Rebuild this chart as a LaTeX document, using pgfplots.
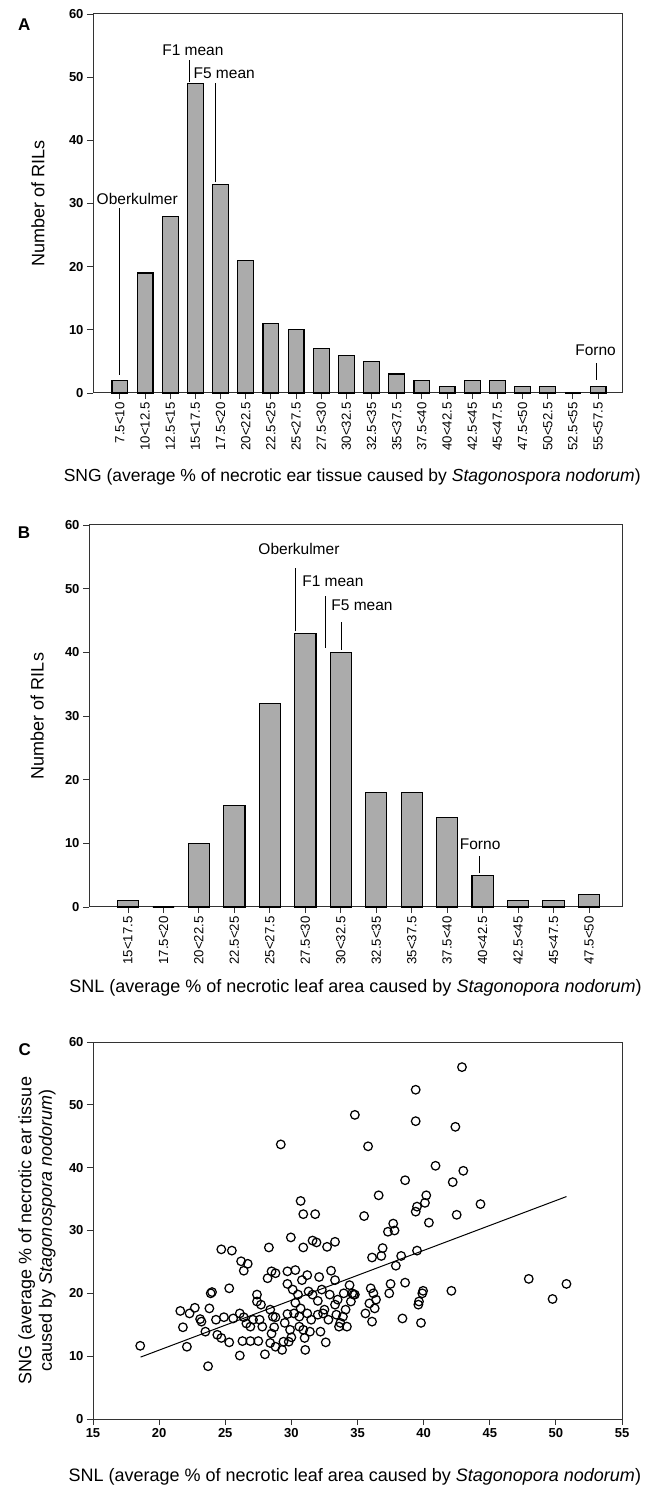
\documentclass[border=0pt]{standalone}
\usepackage{fontspec}
\setmainfont{Liberation Sans}
\usepackage{pgfplots}
\pgfplotsset{compat=1.18}

\pgfplotsset{
  panel/.style={
    scale only axis, clip=false,
    axis line style={black!80, line width=1pt},
    tick style={black!80, line width=0.9pt},
    tick align=outside, major tick length=6pt,
    xtick pos=bottom, ytick pos=left,
    ymin=0, ymax=60, ytick={0,10,...,60},
    /pgf/number format/assume math mode=true,
    ticklabel style={font=\fontsize{13}{13}\selectfont\bfseries},
    label style={font=\fontsize{18}{19}\selectfont},
  },
  cats/.style={xticklabel style={rotate=90, anchor=east, font=\fontsize{13.2}{14}\selectfont}},
  histbar/.style={ybar, fill=black!33, draw=black, line width=1.1pt},
}
\tikzset{
  note/.style={font=\fontsize{15.5}{16}\selectfont, inner sep=0pt},
  letter/.style={font=\fontsize{17}{17}\selectfont\bfseries, anchor=center},
}

\begin{document}
\begin{tikzpicture}
\useasboundingbox (0,0) rectangle (653pt,1486pt);

% ---- A: SNG histogram
\begin{axis}[panel, cats, at={(93pt,1093pt)}, anchor=south west,
    width=529pt, height=379pt,
    xmin=-1.07, xmax=19.95, xtick={0,...,19},
    xticklabels={7.5<10,10<12.5,12.5<15,15<17.5,17.5<20,20<22.5,22.5<25,25<27.5,27.5<30,30<32.5,32.5<35,35<37.5,37.5<40,40<42.5,42.5<45,45<47.5,47.5<50,50<52.5,52.5<55,55<57.5},
    xlabel={SNG (average \% of necrotic ear tissue caused by \textit{Stagonospora nodorum})},
    xlabel style={at={(axis description cs:0.49,-0.222)}, anchor=center,
      font=\fontsize{17.5}{19}\selectfont},
    ylabel={Number of RILs},
    ylabel style={at={(axis description cs:-0.104,0.5)}, anchor=center},
]
\addplot[histbar, bar width=0.63] coordinates {
  (0,2) (1,19) (2,28) (3,49) (4,33) (5,21) (6,11) (7,10) (8,7) (9,6)
  (10,5) (11,3) (12,2) (13,1) (14,2) (15,2) (16,1) (17,1) (18,0) (19,1)
};
\draw[line width=1pt] (0,2.9) -- (0,29.3);
\node[note, anchor=base west] at (-0.93,29.9) {Oberkulmer};
\draw[line width=1pt] (2.76,49.3) -- (2.76,52.7);
\node[note, anchor=base] at (2.9,53.4) {F1 mean};
\draw[line width=1pt] (3.79,33.4) -- (3.79,49.0);
\node[note, anchor=base west] at (2.92,49.8) {F5 mean};
\draw[line width=1pt] (18.95,2.1) -- (18.95,4.7);
\node[note, anchor=base] at (18.9,5.9) {Forno};
\node[letter] at (axis description cs:-0.13,0.971) {A};
\end{axis}

% ---- B: SNL histogram
\begin{axis}[panel, cats, at={(89pt,579pt)}, anchor=south west,
    width=533pt, height=382pt,
    xmin=-1.1, xmax=13.93, xtick={0,...,13},
    xticklabels={15<17.5,17.5<20,20<22.5,22.5<25,25<27.5,27.5<30,30<32.5,32.5<35,35<37.5,37.5<40,40<42.5,42.5<45,45<47.5,47.5<50},
    xlabel={SNL (average \% of necrotic leaf area caused by \textit{Stagonopora nodorum})},
    xlabel style={at={(axis description cs:0.5,-0.212)}, anchor=center},
    ylabel={Number of RILs},
    ylabel style={at={(axis description cs:-0.097,0.5)}, anchor=center},
]
\addplot[histbar, bar width=0.6] coordinates {
  (0,1) (1,0) (2,10) (3,16) (4,32) (5,43) (6,40) (7,18) (8,18) (9,14)
  (10,5) (11,1) (12,1) (13,2)
};
\draw[line width=1pt] (4.73,43.3) -- (4.73,53.2);
\node[note, anchor=base] at (4.82,55.3) {Oberkulmer};
\draw[line width=1pt] (5.58,40.7) -- (5.58,48.8);
\node[note, anchor=base west] at (4.91,50.3) {F1 mean};
\draw[line width=1pt] (6.02,40.4) -- (6.02,44.8);
\node[note, anchor=base west] at (5.73,46.5) {F5 mean};
\draw[line width=1pt] (9.9,5.3) -- (9.9,8.0);
\node[note, anchor=base] at (9.93,9.1) {Forno};
\node[letter] at (axis description cs:-0.122,0.979) {B};
\end{axis}

% ---- C: SNG vs SNL scatter
\begin{axis}[panel, at={(93pt,67pt)}, anchor=south west,
    width=529pt, height=377pt,
    xmin=15, xmax=55, xtick={15,20,...,55},
    xlabel={SNL (average \% of necrotic leaf area caused by \textit{Stagonopora nodorum})},
    xlabel style={at={(axis description cs:0.495,-0.154)}, anchor=center},
    ylabel={SNG (average \% of necrotic ear tissue\\caused by \textit{Stagonospora nodorum})},
    ylabel style={at={(axis description cs:-0.106,0.5)}, anchor=center, align=center,
      font=\fontsize{18}{20.5}\selectfont},
]
\addplot[only marks, mark=o, mark size=4.3pt, black, mark options={line width=1.25pt}]
  table[row sep=\\] {
x y\\
18.57 11.65\\ 21.6 17.2\\ 21.8 14.6\\ 22.1 11.5\\ 22.3 16.8\\ 22.7 17.7\\
23.1 15.9\\ 23.2 15.5\\ 23.5 13.9\\ 23.7 8.4\\ 23.8 17.6\\ 23.9 20.0\\
24.0 20.2\\ 24.3 15.8\\ 24.4 13.4\\ 24.7 27.0\\ 24.7 12.9\\ 24.9 16.2\\
25.3 12.2\\ 25.3 20.8\\ 25.5 26.8\\ 25.6 16.0\\ 26.1 16.8\\ 26.1 10.1\\
26.2 25.1\\ 26.3 12.4\\ 26.4 23.6\\ 26.7 24.7\\ 26.4 16.2\\ 26.9 12.4\\
26.9 14.7\\ 27.1 15.8\\ 27.4 19.8\\ 27.4 18.7\\ 27.5 12.4\\ 27.6 15.8\\
27.7 18.2\\ 27.8 14.7\\ 28.0 10.3\\ 28.2 22.4\\ 28.3 27.3\\ 28.4 17.4\\
28.4 12.1\\ 28.5 13.6\\ 28.6 16.3\\ 28.5 23.5\\ 28.7 14.6\\ 28.8 11.5\\
28.8 23.2\\ 29.2 43.7\\ 29.3 11.0\\ 29.4 12.3\\ 29.5 15.3\\ 29.7 16.7\\
29.7 21.5\\ 29.7 23.5\\ 29.8 12.3\\ 29.9 14.2\\ 29.96 28.9\\ 30.1 20.6\\
30.2 16.8\\ 30.3 23.7\\ 30.3 18.5\\ 30.5 19.8\\ 30.6 14.7\\ 30.6 16.3\\
30.7 34.7\\ 30.7 17.6\\ 30.8 22.1\\ 30.9 27.3\\ 30.9 32.6\\ 30.9 14.2\\
31.0 12.9\\ 31.05 11.0\\ 31.2 22.9\\ 31.2 16.8\\ 31.3 20.3\\ 31.4 13.9\\
31.5 15.8\\ 31.6 28.4\\ 31.6 19.8\\ 31.8 32.6\\ 31.9 28.1\\ 32.0 16.6\\
32.1 22.6\\ 32.2 13.9\\ 32.3 20.6\\ 32.4 16.8\\ 32.5 17.4\\ 32.6 12.2\\
32.7 27.4\\ 32.8 15.8\\ 32.9 19.8\\ 33.0 23.6\\ 33.3 28.2\\ 33.3 22.1\\
33.3 18.2\\ 33.4 16.6\\ 33.5 19.0\\ 33.6 14.7\\ 33.7 15.3\\ 33.9 16.3\\
33.96 20.0\\ 34.1 17.4\\ 34.2 14.7\\ 34.4 21.3\\ 34.5 18.7\\ 34.6 20.0\\
34.7 19.8\\ 34.8 48.4\\ 34.8 19.8\\ 35.5 32.3\\ 35.6 16.8\\ 35.8 43.4\\
35.9 18.4\\ 36.0 20.8\\ 36.1 15.5\\ 36.1 25.7\\ 36.2 20.0\\ 36.3 17.6\\
36.4 19.0\\ 36.6 35.6\\ 36.8 25.95\\ 36.9 27.2\\ 37.3 29.8\\ 37.4 20.0\\
37.5 21.5\\ 37.7 31.1\\ 37.8 30.0\\ 37.9 24.4\\ 38.3 25.95\\ 38.4 16.0\\
38.6 38.0\\ 38.6 21.7\\ 39.4 52.4\\ 39.4 33.0\\ 39.4 47.4\\ 39.5 33.8\\
39.5 26.8\\ 39.6 18.2\\ 39.65 18.7\\ 39.8 15.3\\ 39.9 20.0\\ 39.96 20.4\\
40.1 34.4\\ 40.2 35.6\\ 40.4 31.25\\ 40.9 40.3\\ 42.1 20.4\\ 42.2 37.7\\
42.4 46.5\\ 42.5 32.5\\ 42.9 56.0\\ 43.0 39.5\\ 44.3 34.2\\ 47.95 22.3\\
49.75 19.1\\ 50.8 21.5\\ 28.8 16.2\\ 26.6 15.2\\ 30.0 13.0\\ 32.0 18.8\\
};
\addplot[black, line width=1pt] coordinates {(18.6,9.85) (50.8,35.4)};
\node[letter] at (axis description cs:-0.129,0.979) {C};
\end{axis}
\end{tikzpicture}
\end{document}
